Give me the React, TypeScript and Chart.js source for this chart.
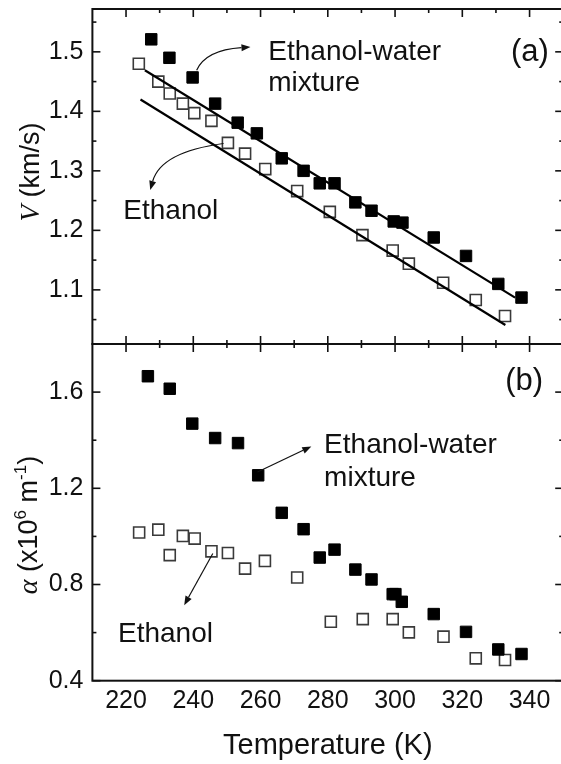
import React, { useEffect, useRef } from "react";
import { Chart, registerables } from "chart.js";
Chart.register(...registerables);

// ---------- axes ----------
const X_MIN = 210;
const X_MAX = 350;
const xMajor = [220, 240, 260, 280, 300, 320, 340];
const xMinor = [230, 250, 270, 290, 310, 330];

const V_MIN = 1.009;
const V_MAX = 1.572;
const vMajor = [1.1, 1.2, 1.3, 1.4, 1.5];
const vMinor = [1.05, 1.15, 1.25, 1.35, 1.45, 1.55];

const A_MIN = 0.4;
const A_MAX = 1.8;
const aMajor = [0.4, 0.8, 1.2, 1.6];
const aMinor = [0.6, 1.0, 1.4, 1.8];

// ---------- panel (a): velocity ----------
const mixTempV = [227.5, 232.9, 239.8, 246.5, 253.2, 258.9, 266.3, 272.8, 277.6, 282.0, 288.2, 293.0, 299.6, 302.2, 311.5, 321.1, 330.7, 337.6];
const mixV = [1.521, 1.490, 1.457, 1.413, 1.381, 1.363, 1.321, 1.300, 1.279, 1.279, 1.247, 1.233, 1.215, 1.213, 1.188, 1.157, 1.110, 1.087];

const ethTempV = [223.8, 229.6, 233.0, 236.9, 240.3, 245.4, 250.3, 255.4, 261.4, 270.9, 280.6, 290.3, 299.3, 304.1, 314.3, 324.0, 332.7];
const ethV = [1.480, 1.450, 1.430, 1.413, 1.397, 1.384, 1.347, 1.329, 1.303, 1.266, 1.231, 1.192, 1.166, 1.144, 1.112, 1.083, 1.056];

const mixFitTemp = [225.6, 335.7];
const mixFitV = [1.469, 1.087];
const ethFitTemp = [224.3, 332.8];
const ethFitV = [1.420, 1.041];

// ---------- panel (b): attenuation ----------
const mixTempA = [226.5, 233.0, 239.7, 246.5, 253.3, 259.3, 266.3, 272.8, 277.6, 282.0, 288.2, 293.0, 299.3, 300.1, 302.0, 311.5, 321.1, 330.7, 337.6];
const mixA = [1.666, 1.614, 1.469, 1.409, 1.388, 1.254, 1.098, 1.030, 0.912, 0.945, 0.862, 0.821, 0.760, 0.760, 0.728, 0.677, 0.603, 0.530, 0.511];

const ethTempA = [223.9, 229.6, 233.0, 236.9, 240.4, 245.4, 250.3, 255.4, 261.3, 270.9, 280.9, 290.4, 299.3, 304.1, 314.4, 324.0, 332.7];
const ethA = [1.016, 1.028, 0.922, 1.002, 0.991, 0.938, 0.931, 0.866, 0.898, 0.829, 0.645, 0.656, 0.656, 0.601, 0.583, 0.493, 0.486];

// ---------- annotations (data coordinates) ----------
const notesA = [
  { text: "Ethanol-water", x: 262.3, y: 1.4995, align: "left" },
  { text: "mixture", x: 262.3, y: 1.4475, align: "left" },
  { text: "Ethanol", x: 219.2, y: 1.2326, align: "left" },
  { text: "(a)", x: 340.1, y: 1.4995, align: "center", big: true },
];
const arrowsA = [
  { from: [241.0, 1.469], ctrl: [243.7, 1.503], to: [257.0, 1.508] },
  { from: [249.0, 1.346], ctrl: [230.4, 1.332], to: [227.2, 1.268] },
];
const notesB = [
  { text: "Ethanol-water", x: 278.9, y: 1.379, align: "left" },
  { text: "mixture", x: 278.9, y: 1.242, align: "left" },
  { text: "Ethanol", x: 217.6, y: 0.594, align: "left" },
  { text: "(b)", x: 338.4, y: 1.644, align: "center", big: true },
];
const arrowsB = [
  { from: [259.1, 1.268], ctrl: null, to: [275.1, 1.374] },
  { from: [245.8, 0.929], ctrl: null, to: [237.3, 0.714] },
];

const SANS = '"Liberation Sans", Arial, sans-serif';
const SERIF = '"Liberation Serif", "Times New Roman", serif';
const INK = "#111";
const CANVAS_W = 566;
const PAD_RIGHT = 2.8;

const pts = (xs: number[], ys: number[]) => xs.map((x, i) => ({ x, y: ys[i] }));

const framePlugin = {
  id: "frame",
  afterDraw(chart: any, _args: any, opts: any) {
    const { ctx, chartArea: ca, scales } = chart;
    const sx = scales.x;
    const sy = scales.y;
    ctx.save();
    ctx.strokeStyle = INK;
    ctx.lineWidth = 2;
    ctx.strokeRect(ca.left, ca.top, ca.right - ca.left, ca.bottom - ca.top);
    ctx.lineWidth = 1.6;
    const tick = (x1: number, y1: number, x2: number, y2: number) => {
      ctx.beginPath();
      ctx.moveTo(x1, y1);
      ctx.lineTo(x2, y2);
      ctx.stroke();
    };
    const ML = 8, mL = 4;
    for (const [vals, len] of [[opts.yMajor, ML], [opts.yMinor, mL]] as any) {
      for (const v of vals) {
        const p = sy.getPixelForValue(v);
        tick(ca.left, p, ca.left + len, p);
        tick(ca.right, p, ca.right - len, p);
      }
    }
    for (const [vals, len] of [[xMajor, ML], [xMinor, mL]] as any) {
      for (const v of vals) {
        const p = sx.getPixelForValue(v);
        if (opts.topTicks) tick(p, ca.top, p, ca.top + len);
        if (opts.bottomTicks) tick(p, ca.bottom, p, ca.bottom - len);
      }
    }
    // y-axis title
    const t = opts.title;
    ctx.translate(t.cx, t.cy);
    ctx.rotate(-Math.PI / 2);
    ctx.fillStyle = INK;
    ctx.textBaseline = "middle";
    ctx.textAlign = "left";
    let total = 0;
    for (const s of t.segs) {
      ctx.font = s.font;
      total += ctx.measureText(s.t).width;
    }
    let xx = -total / 2;
    for (const s of t.segs) {
      ctx.font = s.font;
      ctx.fillText(s.t, xx, s.dy || 0);
      xx += ctx.measureText(s.t).width;
    }
    ctx.restore();
  },
};

const notesPlugin = {
  id: "notes",
  afterDatasetsDraw(chart: any, _args: any, opts: any) {
    const { ctx, scales } = chart;
    const px = (v: number) => scales.x.getPixelForValue(v);
    const py = (v: number) => scales.y.getPixelForValue(v);
    ctx.save();
    ctx.fillStyle = INK;
    ctx.strokeStyle = INK;
    ctx.textBaseline = "middle";
    for (const n of opts.notes) {
      ctx.font = (n.big ? "31px " : "28px ") + SANS;
      ctx.textAlign = n.align;
      ctx.fillText(n.text, px(n.x), py(n.y));
    }
    ctx.lineWidth = 1.2;
    for (const a of opts.arrows) {
      const x0 = px(a.from[0]), y0 = py(a.from[1]);
      const x1 = px(a.to[0]), y1 = py(a.to[1]);
      const cx = a.ctrl ? px(a.ctrl[0]) : (x0 + x1) / 2;
      const cy = a.ctrl ? py(a.ctrl[1]) : (y0 + y1) / 2;
      const ang = Math.atan2(y1 - cy, x1 - cx);
      const hl = 9, hw = 3.5;
      const bx = x1 - hl * Math.cos(ang), by = y1 - hl * Math.sin(ang);
      ctx.beginPath();
      ctx.moveTo(x0, y0);
      ctx.quadraticCurveTo(cx, cy, bx, by);
      ctx.stroke();
      ctx.beginPath();
      ctx.moveTo(x1, y1);
      ctx.lineTo(bx + hw * Math.sin(ang), by - hw * Math.cos(ang));
      ctx.lineTo(bx - hw * Math.sin(ang), by + hw * Math.cos(ang));
      ctx.closePath();
      ctx.fill();
    }
    ctx.restore();
  },
};

const filledSet = (data: any[]) => ({
  data,
  pointStyle: "rect",
  pointRadius: 8.1,
  pointBackgroundColor: "#000",
  pointBorderColor: "#000",
  pointBorderWidth: 1,
  showLine: false,
});
const openSet = (data: any[]) => ({
  data,
  pointStyle: "rect",
  pointRadius: 7.8,
  pointBackgroundColor: "rgba(255,255,255,0)",
  pointBorderColor: "#3a3a3a",
  pointBorderWidth: 1.6,
  showLine: false,
});
const lineSet = (data: any[]) => ({
  data,
  showLine: true,
  pointRadius: 0,
  borderColor: "#000",
  borderWidth: 2.2,
  fill: false,
});

const noPad = (s: any) => {
  s.paddingTop = 0;
  s.paddingBottom = 0;
  s.paddingLeft = 0;
  s.paddingRight = 0;
};

const yScale = (min: number, max: number, major: number[]) => ({
  type: "linear",
  position: "left",
  min,
  max,
  afterBuildTicks: (s: any) => {
    s.ticks = major.map((v) => ({ value: v }));
  },
  afterFit: (s: any) => {
    s.width = 92.4;
    noPad(s);
  },
  grid: { display: false, drawTicks: false },
  border: { display: false },
  ticks: {
    font: { family: SANS, size: 25 },
    color: INK,
    padding: 9,
    callback: (v: any) => Number(v).toFixed(1),
  },
});

export default function App() {
  const topRef = useRef<HTMLCanvasElement>(null);
  const botRef = useRef<HTMLCanvasElement>(null);

  useEffect(() => {
    const top = new Chart(topRef.current as HTMLCanvasElement, {
      type: "scatter",
      data: {
        datasets: [
          lineSet(pts(mixFitTemp, mixFitV)),
          lineSet(pts(ethFitTemp, ethFitV)),
          filledSet(pts(mixTempV, mixV)),
          openSet(pts(ethTempV, ethV)),
        ] as any,
      },
      options: {
        responsive: false,
        animation: false,
        layout: { autoPadding: false, padding: { top: 9, bottom: 6, left: 0, right: PAD_RIGHT } },
        plugins: {
          legend: { display: false },
          tooltip: { enabled: false },
          frame: {
            yMajor: vMajor,
            yMinor: vMinor,
            topTicks: true,
            bottomTicks: true,
            title: {
              cx: 32,
              cy: 172,
              segs: [
                { t: "V", font: "italic 27px " + SERIF },
                { t: " (km/s)", font: "27px " + SANS },
              ],
            },
          },
          notes: { notes: notesA, arrows: arrowsA },
        } as any,
        scales: {
          x: { type: "linear", min: X_MIN, max: X_MAX, display: false, afterFit: noPad } as any,
          y: yScale(V_MIN, V_MAX, vMajor) as any,
        },
      },
      plugins: [framePlugin, notesPlugin],
    });

    const bot = new Chart(botRef.current as HTMLCanvasElement, {
      type: "scatter",
      data: {
        datasets: [filledSet(pts(mixTempA, mixA)), openSet(pts(ethTempA, ethA))] as any,
      },
      options: {
        responsive: false,
        animation: false,
        layout: { autoPadding: false, padding: { top: 7, bottom: 0, left: 0, right: PAD_RIGHT } },
        plugins: {
          legend: { display: false },
          tooltip: { enabled: false },
          frame: {
            yMajor: aMajor,
            yMinor: aMinor,
            topTicks: true,
            bottomTicks: false,
            title: {
              cx: 30,
              cy: 188,
              segs: [
                { t: "α", font: "italic 28px " + SERIF },
                { t: " (x10", font: "27px " + SANS },
                { t: "6", font: "17px " + SANS, dy: -9 },
                { t: " m", font: "27px " + SANS },
                { t: "-1", font: "17px " + SANS, dy: -9 },
                { t: ")", font: "27px " + SANS },
              ],
            },
          },
          notes: { notes: notesB, arrows: arrowsB },
        } as any,
        scales: {
          x: {
            type: "linear",
            min: X_MIN,
            max: X_MAX,
            afterBuildTicks: (s: any) => {
              s.ticks = xMajor.map((v) => ({ value: v }));
            },
            afterFit: (s: any) => {
              s.height = 83.3;
              noPad(s);
            },
            grid: { display: false, drawTicks: false },
            border: { display: false },
            ticks: {
              font: { family: SANS, size: 25 },
              color: INK,
              padding: 5,
              maxRotation: 0,
              callback: (v: any) => String(v),
            },
            title: {
              display: true,
              text: "Temperature (K)",
              font: { family: SANS, size: 29 },
              color: INK,
              padding: { top: 0, bottom: 1 },
            },
          } as any,
          y: yScale(A_MIN, A_MAX, aMajor) as any,
        },
      },
      plugins: [framePlugin, notesPlugin],
    });

    return () => {
      top.destroy();
      bot.destroy();
    };
  }, []);

  return (
    <div style={{ position: "fixed", left: 0, top: 0, width: 561, height: 764, background: "#fff", overflow: "hidden" }}>
      <canvas ref={topRef} width={CANVAS_W} height={350} style={{ position: "absolute", left: 0, top: 0, width: CANVAS_W, height: 350 }} />
      <canvas ref={botRef} width={CANVAS_W} height={427} style={{ position: "absolute", left: 0, top: 337, width: CANVAS_W, height: 427 }} />
    </div>
  );
}
